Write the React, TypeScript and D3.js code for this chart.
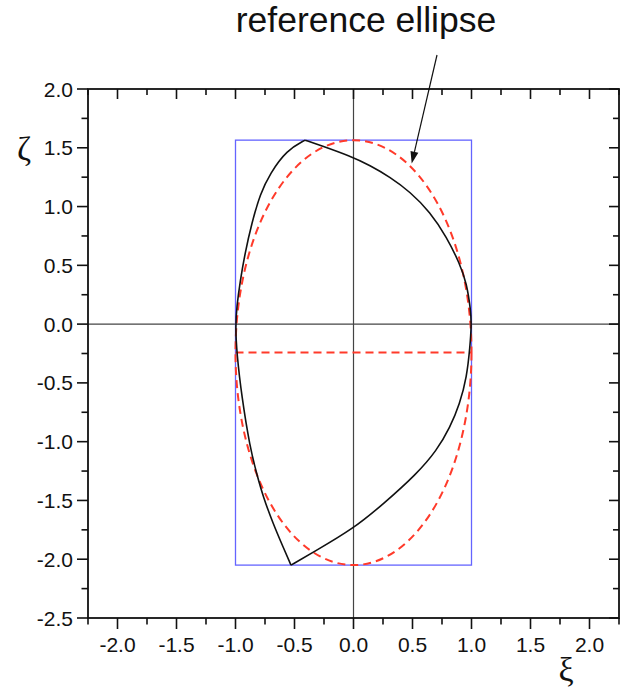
import React from "react";
import * as d3 from "d3";

// ---- data ----
const xiDomain = [-2.25, 2.25];
const zetaDomain = [-2.5, 2.0];
const xiMajorTicks = [-2.0, -1.5, -1.0, -0.5, 0.0, 0.5, 1.0, 1.5, 2.0];
const zetaMajorTicks = [-2.5, -2.0, -1.5, -1.0, -0.5, 0.0, 0.5, 1.0, 1.5, 2.0];
const xiMinorTicks = [-2.25, -1.75, -1.25, -0.75, -0.25, 0.25, 0.75, 1.25, 1.75, 2.25];
const zetaMinorTicks = [-2.25, -1.75, -1.25, -0.75, -0.25, 0.25, 0.75, 1.25, 1.75];

// bounding box of the shape
const boxXi = [-1.0, 1.0];
const boxZeta = [-2.05, 1.565];

// reference ellipse: center and semi-axes
const ellipseCenter = [0.0, -0.2425];
const ellipseRadii = [1.0, 1.8075];

// black contour: right branch (top vertex -> right -> bottom vertex)
const rightBranchXi = [-0.41, -0.28, -0.03, 0.14, 0.31, 0.48, 0.648, 0.79, 0.9, 0.96, 0.993, 1.0, 0.987, 0.96, 0.9, 0.818, 0.705, 0.535, 0.253, 0.0, -0.34, -0.53];
const rightBranchZeta = [1.565, 1.52, 1.43, 1.35, 1.25, 1.125, 0.955, 0.74, 0.515, 0.344, 0.117, 0.0, -0.196, -0.45, -0.68, -0.878, -1.076, -1.275, -1.53, -1.74, -1.94, -2.05];
// left branch (top vertex -> left -> bottom vertex)
const leftBranchXi = [-0.41, -0.566, -0.708, -0.79, -0.863, -0.92, -0.96, -0.99, -1.0, -0.99, -0.947, -0.877, -0.82, -0.764, -0.68, -0.595, -0.53];
const leftBranchZeta = [1.565, 1.48, 1.28, 1.11, 0.856, 0.6, 0.37, 0.145, -0.02, -0.24, -0.62, -1.05, -1.275, -1.474, -1.7, -1.9, -2.05];

const annotationText = "reference ellipse";
const xTitle = "ξ";
const yTitle = "ζ";

export default function App() {
  const W = 639, H = 690;
  const x = d3.scaleLinear().domain(xiDomain).range([88, 619]);
  const y = d3.scaleLinear().domain(zetaDomain).range([618, 89]);
  const left = x(xiDomain[0]), right = x(xiDomain[1]);
  const top = y(zetaDomain[1]), bottom = y(zetaDomain[0]);

  const line = d3
    .line<[number, number]>()
    .x((d) => x(d[0]))
    .y((d) => y(d[1]))
    .curve(d3.curveBasis);

  const rightPts = rightBranchXi.map((v, i) => [v, rightBranchZeta[i]] as [number, number]);
  const leftPts = leftBranchXi.map((v, i) => [v, leftBranchZeta[i]] as [number, number]);

  const fmt = (v: number) => d3.format(".1f")(v).replace("\u2212", "-");
  const font = "'Liberation Sans', Arial, sans-serif";
  const serif = "'Liberation Serif', 'Times New Roman', serif";

  const majLen = 11, minLen = 6.5, inMaj = 10, inMin = 6;

  // arrow
  const ax0 = 437, ay0 = 55, ax1 = 411.7, ay1 = 163.5;
  const ang = Math.atan2(ay1 - ay0, ax1 - ax0);
  const hl = 12, hw = 4;
  const bx = ax1 - hl * Math.cos(ang), by = ay1 - hl * Math.sin(ang);
  const head = `M${ax1},${ay1} L${bx + hw * Math.sin(ang)},${by - hw * Math.cos(ang)} L${bx - hw * Math.sin(ang)},${by + hw * Math.cos(ang)} Z`;

  return (
    <svg
      width={W}
      height={H}
      style={{ position: "absolute", left: 0, top: 0, background: "#fff" }}
    >
      <rect x={0} y={0} width={W} height={H} fill="#fff" />
      {/* zero lines */}
      <line x1={x(0)} x2={x(0)} y1={top} y2={bottom} stroke="#444" strokeWidth={1.2} />
      <line x1={left} x2={right} y1={y(0)} y2={y(0)} stroke="#444" strokeWidth={1.2} />

      {/* bounding box */}
      <rect
        x={x(boxXi[0])}
        y={y(boxZeta[1])}
        width={x(boxXi[1]) - x(boxXi[0])}
        height={y(boxZeta[0]) - y(boxZeta[1])}
        fill="none"
        stroke="#6464ff"
        strokeWidth={1.3}
      />

      {/* reference ellipse */}
      <ellipse
        cx={x(ellipseCenter[0])}
        cy={y(ellipseCenter[1])}
        rx={x(ellipseRadii[0]) - x(0)}
        ry={y(0) - y(ellipseRadii[1])}
        fill="none"
        stroke="#ff3a2a"
        strokeWidth={2}
        strokeDasharray="8 5"
      />
      <line
        x1={x(boxXi[0])}
        x2={x(boxXi[1])}
        y1={y(ellipseCenter[1])}
        y2={y(ellipseCenter[1])}
        stroke="#ff3a2a"
        strokeWidth={2}
        strokeDasharray="8 5"
      />

      {/* contour */}
      <path d={line(rightPts) || ""} fill="none" stroke="#111" strokeWidth={1.6} />
      <path d={line(leftPts) || ""} fill="none" stroke="#111" strokeWidth={1.6} />

      {/* frame */}
      <rect x={left} y={top} width={right - left} height={bottom - top} fill="none" stroke="#111" strokeWidth={1.8} />

      {/* bottom ticks (outward) and top ticks (inward) */}
      {xiMajorTicks.map((t) => (
        <g key={"xm" + t}>
          <line x1={x(t)} x2={x(t)} y1={bottom} y2={bottom + majLen} stroke="#111" strokeWidth={1.6} />
          <line x1={x(t)} x2={x(t)} y1={top} y2={top + inMaj} stroke="#111" strokeWidth={1.6} />
          <text x={x(t)} y={652} textAnchor="middle" fontFamily={font} fontSize={21} fill="#111">
            {fmt(t)}
          </text>
        </g>
      ))}
      {xiMinorTicks.map((t) => (
        <g key={"xn" + t}>
          <line x1={x(t)} x2={x(t)} y1={bottom} y2={bottom + minLen} stroke="#111" strokeWidth={1.6} />
          <line x1={x(t)} x2={x(t)} y1={top} y2={top + inMin} stroke="#111" strokeWidth={1.6} />
        </g>
      ))}

      {/* left ticks (outward) and right ticks (inward) */}
      {zetaMajorTicks.map((t) => (
        <g key={"ym" + t}>
          <line x1={left - majLen} x2={left} y1={y(t)} y2={y(t)} stroke="#111" strokeWidth={1.6} />
          <line x1={right - inMaj} x2={right} y1={y(t)} y2={y(t)} stroke="#111" strokeWidth={1.6} />
          <text x={73} y={y(t) + 7.5} textAnchor="end" fontFamily={font} fontSize={21} fill="#111">
            {fmt(t)}
          </text>
        </g>
      ))}
      {zetaMinorTicks.map((t) => (
        <g key={"yn" + t}>
          <line x1={left - minLen} x2={left} y1={y(t)} y2={y(t)} stroke="#111" strokeWidth={1.6} />
          <line x1={right - inMin} x2={right} y1={y(t)} y2={y(t)} stroke="#111" strokeWidth={1.6} />
        </g>
      ))}

      {/* axis titles */}
      <text x={24} y={160} textAnchor="middle" fontFamily={serif} fontSize={34} fill="#111">
        {yTitle}
      </text>
      <text x={566} y={681} textAnchor="middle" fontFamily={serif} fontSize={34} fill="#111">
        {xTitle}
      </text>

      {/* annotation */}
      <text x={366} y={32} textAnchor="middle" fontFamily={font} fontSize={35.5} fill="#111">
        {annotationText}
      </text>
      <line x1={ax0} y1={ay0} x2={bx} y2={by} stroke="#111" strokeWidth={1.2} />
      <path d={head} fill="#111" />
    </svg>
  );
}
